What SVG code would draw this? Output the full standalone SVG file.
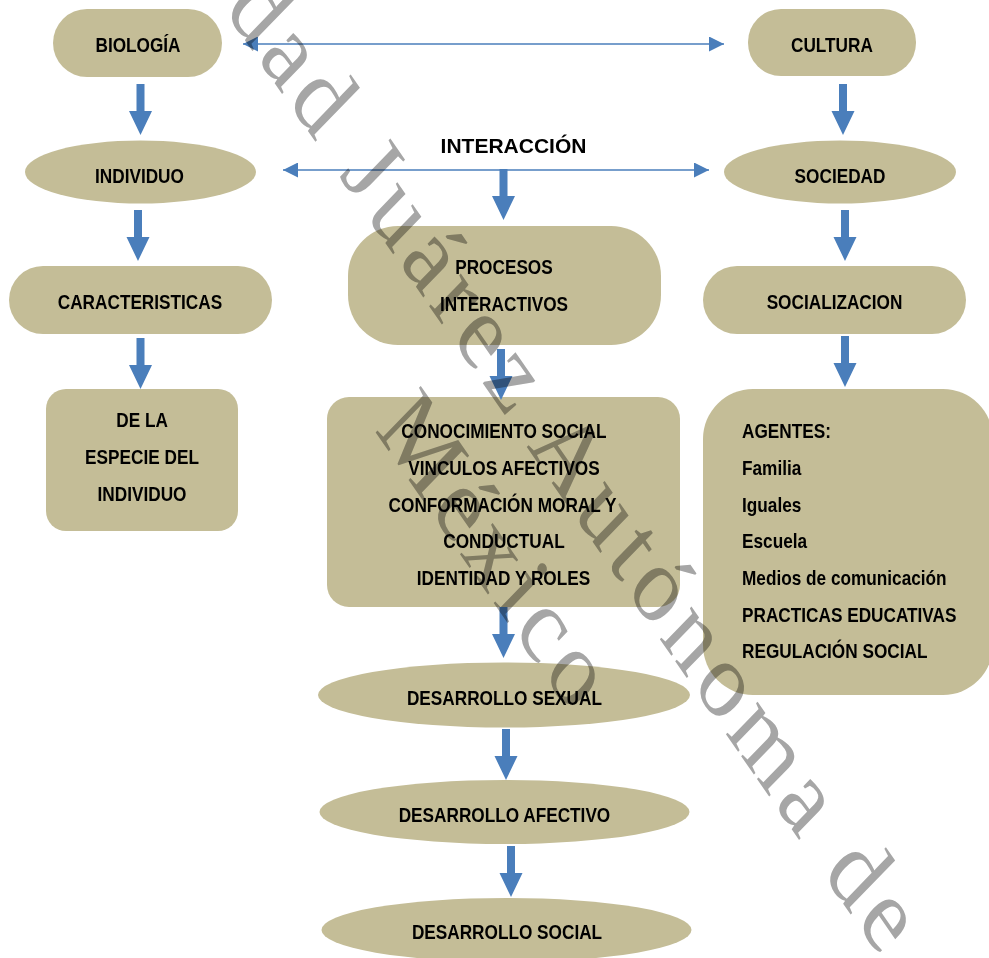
<svg xmlns="http://www.w3.org/2000/svg" width="989" height="958" viewBox="0 0 989 958">
<defs>
<style>
.n{fill:#c4bd97}
.t{font-family:"Liberation Sans",Arial,sans-serif;font-weight:bold;font-size:21px;fill:#000}
.c{text-anchor:middle}
.thin{stroke:#4a7ebb;stroke-width:1.6;fill:none}
.blk{fill:#4a7ebb}
.wm{font-family:"Liberation Serif","Times New Roman",serif;font-size:110px;letter-spacing:7.5px;fill:#a6a6a6;mix-blend-mode:multiply}
</style>
<marker id="ah" viewBox="0 0 10 10" refX="10" refY="5" markerUnits="userSpaceOnUse" markerWidth="15" markerHeight="15" orient="auto-start-reverse"><path d="M0,0 L10,5 L0,10 Z" fill="#4a7ebb"/></marker>
<path id="ba" d="M-4,0 H4 V27 H11.5 L0,51 L-11.5,27 H-4 Z"/>
</defs>
<rect width="989" height="958" fill="#fff"/>

<g id="biologia"><rect class="n" x="53" y="9" width="169" height="68" rx="34"/><text class="t c" transform="scale(.82,1)" x="168.3" y="52">BIOLOGÍA</text></g>
<g id="cultura"><rect class="n" x="748" y="9" width="168" height="67" rx="33"/><text class="t c" transform="scale(.82,1)" x="1014.6" y="52">CULTURA</text></g>
<g id="individuo"><ellipse class="n" cx="140.5" cy="172" rx="115.5" ry="31.5"/><text class="t c" transform="scale(.82,1)" x="170.1" y="183">INDIVIDUO</text></g>
<g id="sociedad"><ellipse class="n" cx="840" cy="172" rx="116" ry="31.5"/><text class="t c" transform="scale(.82,1)" x="1024.4" y="183">SOCIEDAD</text></g>
<g id="interaccion"><text class="t c" x="513.5" y="153">INTERACCIÓN</text></g>
<g id="caracteristicas"><rect class="n" x="9" y="266" width="263" height="68" rx="34"/><text class="t c" transform="scale(.82,1)" x="170.7" y="309">CARACTERISTICAS</text></g>
<g id="especie"><rect class="n" x="46" y="389" width="192" height="142" rx="20"/>
<text class="t c" transform="scale(.82,1)" x="173.2" y="427">DE LA</text>
<text class="t c" transform="scale(.82,1)" x="173.2" y="464">ESPECIE DEL</text>
<text class="t c" transform="scale(.82,1)" x="173.2" y="501">INDIVIDUO</text></g>
<g id="procesos"><rect class="n" x="348" y="226" width="313" height="119" rx="50"/>
<text class="t c" transform="scale(.82,1)" x="614.6" y="274">PROCESOS</text>
<text class="t c" transform="scale(.82,1)" x="614.6" y="311">INTERACTIVOS</text></g>
<g id="conocimiento"><rect class="n" x="327" y="397" width="353" height="210" rx="22"/>
<text class="t c" transform="scale(.82,1)" x="614.6" y="438">CONOCIMIENTO SOCIAL</text>
<text class="t c" transform="scale(.82,1)" x="614.6" y="475">VINCULOS AFECTIVOS</text>
<text class="t c" transform="scale(.82,1)" x="612.8" y="512">CONFORMACIÓN MORAL Y</text>
<text class="t c" transform="scale(.82,1)" x="614.6" y="548">CONDUCTUAL</text>
<text class="t c" transform="scale(.82,1)" x="614" y="585">IDENTIDAD Y ROLES</text></g>
<g id="socializacion"><rect class="n" x="703" y="266" width="263" height="68" rx="34"/><text class="t c" transform="scale(.82,1)" x="1017.7" y="309">SOCIALIZACION</text></g>
<g id="agentes"><rect class="n" x="703" y="389" width="290" height="306" rx="50"/>
<text class="t" transform="scale(.82,1)" x="904.9" y="438">AGENTES:</text>
<text class="t" transform="scale(.82,1)" x="904.9" y="475">Familia</text>
<text class="t" transform="scale(.82,1)" x="904.9" y="512">Iguales</text>
<text class="t" transform="scale(.82,1)" x="904.9" y="548">Escuela</text>
<text class="t" transform="scale(.82,1)" x="904.9" y="585">Medios de comunicación</text>
<text class="t" transform="scale(.82,1)" x="904.9" y="622">PRACTICAS EDUCATIVAS</text>
<text class="t" transform="scale(.82,1)" x="904.9" y="658">REGULACIÓN SOCIAL</text></g>
<g id="sexual"><ellipse class="n" cx="504" cy="695" rx="186" ry="32.5"/><text class="t c" transform="scale(.82,1)" x="615.2" y="705">DESARROLLO SEXUAL</text></g>
<g id="afectivo"><ellipse class="n" cx="504.5" cy="812" rx="185" ry="32"/><text class="t c" transform="scale(.82,1)" x="615.2" y="822">DESARROLLO AFECTIVO</text></g>
<g id="social"><ellipse class="n" cx="506.5" cy="930" rx="185" ry="32"/><text class="t c" transform="scale(.82,1)" x="618.3" y="939">DESARROLLO SOCIAL</text></g>

<g id="connectors">
<line class="thin" x1="243" y1="44" x2="724" y2="44" marker-start="url(#ah)" marker-end="url(#ah)"/>
<line class="thin" x1="283" y1="170" x2="709" y2="170" marker-start="url(#ah)" marker-end="url(#ah)"/>
<use href="#ba" class="blk" x="140.5" y="84"/>
<use href="#ba" class="blk" x="138" y="210"/>
<use href="#ba" class="blk" x="140.5" y="338"/>
<use href="#ba" class="blk" x="843" y="84"/>
<use href="#ba" class="blk" x="845" y="210"/>
<use href="#ba" class="blk" x="845" y="336"/>
<use href="#ba" class="blk" x="503.5" y="169"/>
<use href="#ba" class="blk" x="501" y="349"/>
<use href="#ba" class="blk" x="503.5" y="607"/>
<use href="#ba" class="blk" x="506" y="729"/>
<use href="#ba" class="blk" x="511" y="846"/>
</g>

<g id="watermark">
<text class="wm" transform="translate(224,10) scale(0.82,1) rotate(49.8)">dad Juárez Autónoma de</text>
<text class="wm" transform="translate(374,430) scale(0.82,1) rotate(49.8)">México</text>
</g>
</svg>
